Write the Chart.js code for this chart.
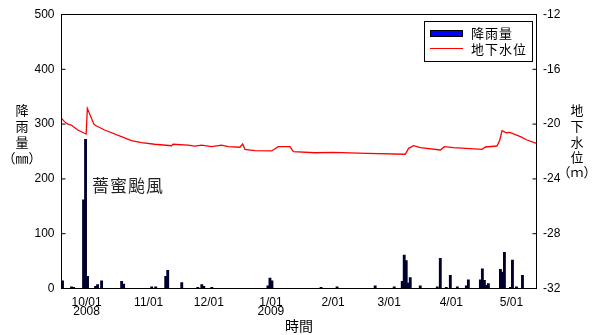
<!DOCTYPE html>
<html>
<head>
<meta charset="utf-8">
<script src="https://cdn.jsdelivr.net/npm/chart.js@4.4.1/dist/chart.umd.min.js"></script>
<style>
  body { margin: 0; background: #fff; }
  #wrap { width: 592px; height: 335px; }
</style>
</head>
<body>
<div id="wrap"><canvas id="c"></canvas></div>
<script>
// days counted from 2008/10/01
const tickDays = [0, 31, 61, 92, 123, 151, 182, 212];
const tickLabels = [["10/01", "2008"], "11/01", "12/01", ["1/01", "2009"], "2/01", "3/01", "4/01", "5/01"];

// daily rainfall (mm)
const rainDays = [-12, -7.5, -6.5, -1.5, -0.5, 0.5, 4.5, 5.5, 7.5, 17.5, 18.5, 32.5, 34.5, 39.5, 40.5, 47.5,
  55.5, 57.5, 58.5, 62.5, 90.5, 91.5, 92.5, 117, 125, 144, 153.5, 157.5, 158.5, 159.5, 160.5, 161.5,
  166.5, 175, 176.5, 179.5, 181.5, 185, 189.5, 190.5, 196.5, 197.5, 198.5, 199.5, 200.5,
  206.5, 207.5, 208.5, 211.5, 212.5, 214.5, 217.5];
const rainMm = [14, 3, 2, 162, 272, 22, 4, 7, 14, 13, 8, 3, 3, 22, 33, 11,
  2, 7, 4, 2, 5, 19, 14, 2, 3, 5, 3, 13, 61, 51, 10, 20,
  5, 3, 55, 2, 24, 3, 5, 16, 16, 36, 15, 6, 9,
  35, 30, 66, 2, 52, 3, 24];

// groundwater level (m)
const levelDays = [-12.5, -11, -9.6, -7.6, -4.4, -1, -0.2, 0.4, 3.6, 4.5, 9, 17.4, 22.4, 27.4, 34, 42.4, 43.2,
  50.6, 54, 57.4, 62.4, 67.4, 70.6, 76.5, 77.9, 79, 84, 92.4, 95.6, 101.5, 103.2, 114, 123, 140, 159,
  160.7, 163.2, 166.5, 176.5, 178.5, 183, 197.3, 199, 204.8, 206.2, 207.3, 209.5, 211.2, 216.5, 219.8, 224.5];
const levelM = [-19.58, -19.82, -19.99, -20.07, -20.43, -20.67, -20.72, -18.85, -19.99, -20.1, -20.43, -20.92,
  -21.21, -21.36, -21.47, -21.58, -21.47, -21.53, -21.6, -21.53, -21.65, -21.53, -21.65, -21.69, -21.45,
  -21.84, -21.94, -21.96, -21.65, -21.65, -22.01, -22.09, -22.06, -22.13, -22.2, -21.77, -21.58, -21.72,
  -21.89, -21.65, -21.72, -21.84, -21.67, -21.6, -21.16, -20.48, -20.63, -20.6, -20.92, -21.16, -21.4];

const latin = "'Liberation Sans', Arial, sans-serif";
const cjk = "'Noto Sans CJK TC', 'Noto Sans CJK JP', sans-serif";
const legendBlue = "#0000ff";

function stackText(ctx, chars, x, ys) {
  chars.forEach((ch, i) => ctx.fillText(ch, x, ys[i]));
}

// frame, inward ticks, titles, note and legend
const extras = {
  id: "extras",
  afterDatasetsDraw(chart) {
    const { ctx, chartArea: a, scales } = chart;
    ctx.save();
    ctx.strokeStyle = "#000";
    ctx.lineWidth = 1;
    ctx.strokeRect(a.left, a.top, a.right - a.left, a.bottom - a.top);
    ctx.beginPath();
    scales.yL.ticks.forEach((t, i) => {
      const y = scales.yL.getPixelForTick(i);
      ctx.moveTo(a.left, y); ctx.lineTo(a.left + 4, y);
    });
    scales.yR.ticks.forEach((t, i) => {
      const y = scales.yR.getPixelForTick(i);
      ctx.moveTo(a.right, y); ctx.lineTo(a.right - 4, y);
    });
    ctx.stroke();

    ctx.fillStyle = "#000";
    ctx.textAlign = "center";
    ctx.textBaseline = "middle";
    ctx.font = "13px " + cjk;
    stackText(ctx, ["降", "雨", "量", "（㎜）"], 22, [110, 126, 142, 158]);
    stackText(ctx, ["地", "下", "水", "位", "（ｍ）"], 577, [110, 126, 142, 157, 172]);
    ctx.font = "14px " + cjk;
    ctx.fillText("時間", 299, 326);

    ctx.textAlign = "left";
    ctx.font = "17px " + cjk;
    ctx.fillStyle = "#222";
    ctx.letterSpacing = "1px";
    ctx.fillText("薔蜜颱風", 92, 186);
    ctx.letterSpacing = "0px";

    // legend
    ctx.fillStyle = "#fff";
    ctx.fillRect(424.5, 21.5, 108, 40);
    ctx.strokeRect(424.5, 21.5, 108, 40);
    const ds = chart.data.datasets;
    ctx.fillStyle = legendBlue;
    ctx.fillRect(430, 30, 33, 7);
    ctx.strokeRect(430.5, 30.5, 32, 6);
    ctx.strokeStyle = ds[1].borderColor;
    ctx.beginPath();
    ctx.moveTo(430, 48.5); ctx.lineTo(463, 48.5);
    ctx.stroke();
    ctx.fillStyle = "#000";
    ctx.font = "13px " + cjk;
    ctx.letterSpacing = "1px";
    ctx.fillText(ds[0].label, 471, 33.5);
    ctx.fillText(ds[1].label, 471, 49);
    ctx.restore();
  }
};

new Chart(document.getElementById("c"), {
  type: "bar",
  data: {
    datasets: [
      {
        type: "bar",
        label: "降雨量",
        data: rainDays.map((d, i) => ({ x: d, y: rainMm[i] })),
        yAxisID: "yL",
        backgroundColor: "#00002e",
        borderWidth: 0,
        barThickness: 2.2,
        order: 1
      },
      {
        type: "line",
        label: "地下水位",
        data: levelDays.map((d, i) => ({ x: d, y: levelM[i] })),
        yAxisID: "yR",
        borderColor: "#ff0000",
        borderWidth: 1.3,
        pointRadius: 0,
        tension: 0,
        order: 0
      }
    ]
  },
  options: {
    responsive: true,
    maintainAspectRatio: false,
    animation: false,
    layout: { padding: { top: 14.5, left: 0, right: 0, bottom: 0 } },
    plugins: {
      legend: { display: false },
      tooltip: { enabled: false }
    },
    scales: {
      x: {
        type: "linear",
        min: -12.5,
        max: 224.5,
        offset: false,
        grid: { display: false, drawTicks: false },
        border: { display: false },
        afterBuildTicks: (s) => { s.ticks = tickDays.map((v) => ({ value: v })); },
        afterFit: (s) => { s.height = 46.5; },
        ticks: {
          autoSkip: false,
          maxRotation: 0,
          padding: 9,
          color: "#000",
          font: { family: latin, size: 12, lineHeight: "9.5px" },
          callback: (v) => tickLabels[tickDays.indexOf(v)]
        }
      },
      yL: {
        position: "left",
        min: 0,
        max: 500,
        grid: { display: false, drawTicks: false },
        border: { display: false },
        afterFit: (s) => { s.width = 61.5; },
        ticks: { stepSize: 100, padding: 7, color: "#000", font: { family: latin, size: 12 } }
      },
      yR: {
        position: "right",
        min: -32,
        max: -12,
        grid: { display: false, drawTicks: false },
        border: { display: false },
        afterFit: (s) => { s.width = 55.5; },
        ticks: { stepSize: 4, padding: 6.5, color: "#000", font: { family: latin, size: 12 } }
      }
    }
  },
  plugins: [extras]
});
</script>
</body>
</html>
